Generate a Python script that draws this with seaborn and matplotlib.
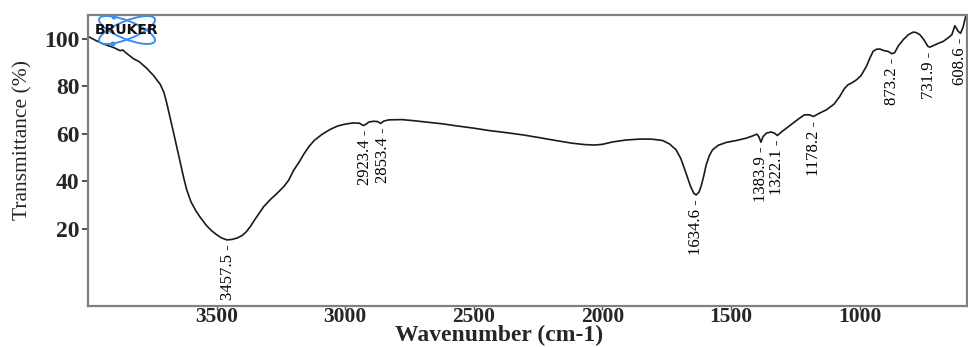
import numpy as np
import pandas as pd
import matplotlib
matplotlib.use("Agg")
import matplotlib.pyplot as plt
import seaborn as sns
from matplotlib.patches import Ellipse, Circle
from matplotlib.transforms import IdentityTransform

# ---- data ----
wavenumber = [4000, 3970, 3940, 3900, 3875, 3865, 3855, 3823, 3800, 3771, 3745, 3719,
              3705, 3694, 3680, 3667, 3655, 3641, 3628, 3616, 3600, 3580, 3563, 3540,
              3520, 3499, 3480, 3460, 3440, 3420, 3400, 3385, 3369, 3350, 3330, 3317,
              3290, 3265, 3239, 3220, 3200, 3180, 3161, 3140, 3120, 3090, 3060, 3030,
              3000, 2970, 2945, 2930, 2920, 2908, 2890, 2875, 2862, 2850, 2830, 2780,
              2739, 2680, 2620, 2570, 2500, 2441, 2380, 2311, 2250, 2181, 2120, 2070,
              2030, 2000, 1961, 1910, 1857, 1810, 1766, 1740, 1714, 1695, 1675, 1658,
              1645, 1636, 1625, 1617, 1607, 1597, 1585, 1572, 1550, 1519, 1480, 1441,
              1415, 1400, 1392, 1384, 1376, 1363, 1345, 1330, 1320, 1308, 1285, 1260,
              1234, 1215, 1195, 1180, 1160, 1130, 1100, 1078, 1060, 1046, 1030, 1013,
              995, 974, 960, 948, 935, 922, 905, 890, 875, 864, 850, 831,
              810, 792, 780, 766, 750, 735, 727, 710, 690, 675, 655, 642,
              630, 617, 608, 598, 588, 580]
transmittance = [101.0, 99.3, 97.8, 96.3, 95.0, 95.3, 94.3, 91.6, 90.3, 87.5, 84.5, 80.8,
                 77.5, 73.0, 66.5, 60.3, 54.5, 47.7, 41.5, 36.4, 31.5, 27.5, 24.8, 21.5,
                 19.3, 17.5, 16.2, 15.4, 15.6, 16.2, 17.3, 18.8, 21.0, 24.2, 27.3, 29.4,
                 32.5, 35.0, 37.8, 40.5, 44.8, 48.0, 51.5, 54.8, 57.3, 59.8, 61.8, 63.3,
                 64.1, 64.6, 64.5, 63.5, 64.0, 65.0, 65.3, 65.2, 64.4, 65.4, 65.9, 66.0,
                 65.6, 64.9, 64.2, 63.4, 62.4, 61.4, 60.6, 59.6, 58.5, 57.2, 56.1, 55.5,
                 55.3, 55.6, 56.6, 57.4, 57.8, 57.8, 57.2, 55.8, 53.3, 49.5, 43.4, 38.0,
                 35.0, 34.3, 35.5, 37.8, 42.0, 46.9, 50.8, 53.3, 55.2, 56.4, 57.2, 58.2,
                 59.2, 59.9, 58.8, 56.5, 58.8, 60.3, 60.8, 60.2, 59.3, 60.5, 62.4, 64.5,
                 66.6, 68.0, 68.0, 67.3, 68.5, 70.1, 72.5, 75.7, 79.0, 80.6, 81.5, 82.7,
                 84.5, 88.4, 92.0, 94.7, 95.6, 95.7, 95.0, 94.7, 93.7, 94.2, 97.0, 99.6,
                 101.8, 102.8, 102.6, 101.7, 99.5, 96.8, 96.5, 97.3, 98.3, 98.9, 100.5, 101.7,
                 105.5, 103.1, 102.3, 105.0, 109.5, 112.0]

peak_positions = [3457.5, 2923.4, 2853.4, 1634.6, 1383.9, 1322.1, 1178.2, 873.2, 731.9, 608.6]
peak_values = [15.4, 63.6, 64.4, 34.3, 56.5, 59.3, 67.3, 93.7, 96.5, 102.3]

xticks = [3500, 3000, 2500, 2000, 1500, 1000]
yticks = [20, 40, 60, 80, 100]

# ---- style ----
sns.set_theme(style="white")
plt.rcParams["font.family"] = ["Liberation Serif", "DejaVu Serif"]

W, H = 968, 347
fig = plt.figure(figsize=(W / 100, H / 100), dpi=100)
ax = fig.add_axes([88 / W, 1 - 306 / H, (967 - 88) / W, (306 - 15) / H])

df = pd.DataFrame({"Wavenumber": wavenumber, "Transmittance": transmittance})
sns.lineplot(data=df, x="Wavenumber", y="Transmittance", ax=ax, color="#1a1a1a",
             linewidth=1.2, estimator=None, sort=False)

ax.set_xlim(4000, 583)
ax.set_ylim(-12.4, 110)
ax.set_xticks(xticks)
ax.set_yticks(yticks)
ax.set_xticklabels([str(t) for t in xticks], fontsize=15.5, fontweight="bold")
ax.set_yticklabels([str(t) for t in yticks], fontsize=17, fontweight="bold")
ax.tick_params(axis="x", direction="out", length=3, width=1.0, color="#555555", pad=-2.5)
ax.tick_params(axis="y", direction="out", length=4, width=1.2, color="#333333", pad=2)
ax.tick_params(bottom=True, left=True)

ax.set_xlabel("Wavenumber (cm-1)", fontsize=17, fontweight="bold")
ax.xaxis.set_label_coords((499 - 88) / 879, (306 - 346.5) / 291)
ax.xaxis.label.set_va("bottom")
ax.set_ylabel("Transmittance (%)", fontsize=15.5)
ax.yaxis.set_label_coords((23 - 88) / 879, (306 - 140) / 291)
ax.yaxis.label.set_va("center")

for s in ax.spines.values():
    s.set_color("#808080")
    s.set_linewidth(1.6)

for w, v in zip(peak_positions, peak_values):
    ax.annotate(f"{w:.1f} -", xy=(w, v), xytext=(0, -3), textcoords="offset points",
                rotation=90, ha="center", va="top", fontsize=12, color="black")

# ---- BRUKER logo ----
tr = IdentityTransform()
for ang in (22, -22):
    fig.patches.append(Ellipse((127, H - 30), 60, 18, angle=ang, fill=False,
                               edgecolor="#3d8ef0", linewidth=1.4, transform=tr))
for (cx, cy) in [(114, 17), (113, 44)]:
    fig.patches.append(Circle((cx, H - cy), 1.8, color="#3d8ef0", transform=tr))
fig.text(127 / W, 1 - 30 / H, "BRUKER", fontsize=10, fontweight="bold",
         family="DejaVu Sans", ha="center", va="center", color="#111111")

fig.savefig("out.png", dpi=100)
